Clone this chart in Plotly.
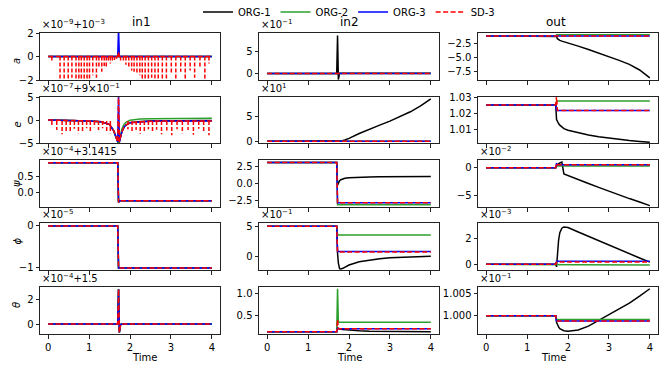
import plotly.graph_objects as go
from plotly.subplots import make_subplots

# ---------------- data (values in displayed axis units) ----------------
T = [0, 0.5, 1.0, 1.3, 1.5, 1.6, 1.66, 1.70, 1.72, 1.74, 1.77, 1.8, 1.85,
     1.9, 2.0, 2.25, 2.5, 2.75, 3.0, 3.25, 3.5, 3.75, 4.0]

SERIES = ["ORG-1", "ORG-2", "ORG-3", "SD-3"]

# in1 column
in1_a_org1 = [0, 0, 0, 0, 0, 0, 0, 0, 0, 0, 0, 0, 0, 0, 0, 0, 0, 0, 0, 0, 0, 0, 0]
in1_a_org2 = [0, 0, 0, 0, 0, 0, 0, 0, 0, 0, 0, 0, 0, 0, 0, 0, 0, 0, 0, 0, 0, 0, 0]
in1_a_org3 = [0, 0, 0, 0, 0, 0, 0, 0, 2.4, 0, 0, 0, 0, 0, 0, 0, 0, 0, 0, 0, 0, 0, 0]
in1_a_sd3 = [0, 0, 0, 0, 0, 0, 0, 0, 0.4, 0, 0, 0, 0, 0, 0, 0, 0, 0, 0, 0, 0, 0, 0]
in1_a_spike_t = [0.09, 0.29, 0.39, 0.49, 0.58, 0.68, 0.75, 0.81, 0.88, 0.95, 1.01, 1.09,
                 1.18, 1.24, 1.31, 1.37, 1.42, 1.47, 1.52, 1.57, 1.62, 1.67, 1.77, 1.84,
                 1.90, 1.97, 2.04, 2.10, 2.17, 2.24, 2.30, 2.37, 2.45, 2.53, 2.61, 2.69,
                 2.79, 2.89, 3.01, 3.12, 3.24, 3.35, 3.47, 3.58, 3.71, 3.83, 3.93]
in1_a_spike_v = [-0.5, -2.2, -2.2, -2.2, -1.8, -2.2, -2.2, -2.2, -2.2, -2.2, -2.2, -1.6,
                 -1.8, -1.0, -1.3, -0.8, -1.0, -0.5, -0.6, -0.4, -0.3, -0.2, -0.4, -0.5,
                 -0.7, -0.9, -1.2, -1.3, -1.5, -1.6, -2.2, -2.2, -2.2, -1.8, -2.2, -2.2,
                 -2.2, -2.2, -1.5, -2.2, -1.3, -2.2, -1.2, -1.8, -1.0, -2.2, -0.6]

in1_e_org1 = [0, -0.05, -0.2, -0.4, -1.0, -2.3, -3.6, -4.8, -5.2, -4.8, -3.6, -2.6, -1.6,
              -1.1, -0.6, -0.3, -0.2, -0.15, -0.12, -0.1, -0.1, -0.1, -0.1]
in1_e_org2 = [0, -0.05, -0.2, -0.4, -1.0, -2.3, -3.6, -4.8, -5.2, -4.5, -3.0, -2.0, -1.0,
              -0.5, -0.05, 0.2, 0.28, 0.32, 0.35, 0.37, 0.38, 0.39, 0.4]
in1_e_org3 = [0, -0.05, -0.2, -0.4, -1.0, -2.3, -3.6, -4.8, 5.6, -4.8, -3.6, -2.6, -1.6,
              -1.1, -0.6, -0.35, -0.25, -0.22, -0.2, -0.2, -0.2, -0.2, -0.2]
in1_e_sd3 = [0, -0.05, -0.2, -0.4, -1.0, -2.3, -3.6, -4.8, 5.6, -4.8, -3.6, -2.6, -1.6,
             -1.1, -0.6, -0.35, -0.25, -0.22, -0.2, -0.2, -0.2, -0.2, -0.2]
in1_e_spike_t = [0.09, 0.21, 0.34, 0.44, 0.54, 0.64, 0.74, 0.84, 0.94, 1.03, 1.13, 1.23,
                 1.33, 1.43, 1.52, 1.95, 2.05, 2.15, 2.25, 2.35, 2.45, 2.55, 2.65, 2.77,
                 2.90, 3.02, 3.15, 3.28, 3.42, 3.55, 3.68, 3.80, 3.93]
in1_e_spike_v = [-1.1, -2.2, -3.1, -2.4, -2.6, -1.9, -2.9, -2.4, -1.8, -2.5, -1.6, -2.2,
                 -1.8, -2.5, -2.9, -2.0, -2.5, -2.2, -3.0, -2.4, -2.0, -2.7, -2.1, -3.1,
                 -2.3, -3.3, -2.0, -2.9, -2.2, -3.2, -1.9, -2.8, -3.3]

in1_psi_all = [0.95, 0.95, 0.95, 0.95, 0.95, 0.95, 0.95, 0.95, -0.33, -0.28, -0.28, -0.28,
               -0.28, -0.28, -0.28, -0.28, -0.28, -0.28, -0.28, -0.28, -0.28, -0.28, -0.28]
in1_phi_all = [0, 0, 0, 0, 0, 0, 0, 0, -1.0, -1.0, -1.0, -1.0, -1.0, -1.0, -1.0, -1.0,
               -1.0, -1.0, -1.0, -1.0, -1.0, -1.0, -1.0]
in1_theta_all = [0, 0, 0, 0, 0, 0, 0, 0, 2.9, -0.7, -0.05, 0, 0, 0, 0, 0, 0, 0, 0, 0, 0, 0, 0]

# in2 column
in2_a_org1 = [0, 0, 0, 0, 0, 0, 0, 0, 8.6, -1.4, 0.02, 0.02, 0.02, 0.02, 0.02, 0.02, 0.02,
              0.02, 0.02, 0.02, 0.02, 0.02, 0.02]
in2_a_rest = [0, 0, 0, 0, 0, 0, 0, 0, 0, 0, 0, 0, 0, 0, 0, 0, 0, 0, 0, 0, 0, 0, 0]

in2_e_org1 = [0, 0, 0, 0, 0, 0, 0, 0, 0, 0, 0.02, 0.06, 0.15, 0.28, 0.6, 1.6, 2.5, 3.3,
              4.1, 5.0, 6.0, 7.2, 8.6]
in2_e_rest = [0, 0, 0, 0, 0, 0, 0, 0, 0, 0, 0, 0, 0, 0, 0, 0, 0, 0, 0, 0, 0, 0, 0]

in2_psi_org1 = [3.14, 3.14, 3.14, 3.14, 3.14, 3.14, 3.14, 3.14, -0.2, 0.2, 0.45, 0.6, 0.72,
                0.8, 0.88, 0.97, 1.0, 1.03, 1.05, 1.06, 1.07, 1.08, 1.08]
in2_psi_org2 = [3.14, 3.14, 3.14, 3.14, 3.14, 3.14, 3.14, 3.14, -3.1, -3.1, -3.1, -3.1,
                -3.1, -3.1, -3.1, -3.1, -3.1, -3.1, -3.1, -3.1, -3.1, -3.1, -3.1]
in2_psi_org3 = [3.14, 3.14, 3.14, 3.14, 3.14, 3.14, 3.14, 3.14, -2.8, -2.8, -2.8, -2.8,
                -2.8, -2.8, -2.8, -2.8, -2.8, -2.8, -2.8, -2.8, -2.8, -2.8, -2.8]
in2_psi_sd3 = [3.14, 3.14, 3.14, 3.14, 3.14, 3.14, 3.14, 3.14, -2.8, -2.8, -2.8, -2.8,
               -2.8, -2.8, -2.8, -2.8, -2.8, -2.8, -2.8, -2.8, -2.8, -2.8, -2.8]

in2_phi_org1 = [4.95, 4.95, 4.95, 4.95, 4.95, 4.95, 4.95, 4.95, 0.5, -1.2, -2.1, -2.17,
                -2.05, -1.85, -1.5, -0.95, -0.65, -0.45, -0.3, -0.2, -0.12, -0.06, -0.02]
in2_phi_org2 = [4.95, 4.95, 4.95, 4.95, 4.95, 4.95, 4.95, 4.95, 3.5, 3.5, 3.5, 3.5, 3.5,
                3.5, 3.5, 3.5, 3.5, 3.5, 3.5, 3.5, 3.5, 3.5, 3.5]
in2_phi_org3 = [4.95, 4.95, 4.95, 4.95, 4.95, 4.95, 4.95, 4.95, 0.75, 0.75, 0.75, 0.75,
                0.75, 0.75, 0.75, 0.75, 0.75, 0.75, 0.75, 0.75, 0.75, 0.75, 0.75]
in2_phi_sd3 = [4.95, 4.95, 4.95, 4.95, 4.95, 4.95, 4.95, 4.95, 0.65, 0.65, 0.65, 0.65,
               0.65, 0.65, 0.65, 0.65, 0.65, 0.65, 0.65, 0.65, 0.65, 0.65, 0.65]

in2_theta_org1 = [0.11, 0.11, 0.11, 0.11, 0.11, 0.11, 0.11, 0.11, 0.2, 0.19, 0.18, 0.17,
                  0.165, 0.16, 0.15, 0.135, 0.125, 0.12, 0.117, 0.115, 0.113, 0.112, 0.11]
in2_theta_org2 = [0.11, 0.11, 0.11, 0.11, 0.11, 0.11, 0.11, 0.11, 1.12, 0.34, 0.335, 0.335,
                  0.335, 0.335, 0.335, 0.335, 0.335, 0.335, 0.335, 0.335, 0.335, 0.335, 0.335]
in2_theta_org3 = [0.11, 0.11, 0.11, 0.11, 0.11, 0.11, 0.11, 0.11, 0.2, 0.18, 0.18, 0.18,
                  0.18, 0.18, 0.18, 0.18, 0.18, 0.18, 0.18, 0.18, 0.18, 0.18, 0.18]
in2_theta_sd3 = [0.11, 0.11, 0.11, 0.11, 0.11, 0.11, 0.11, 0.11, 0.4, 0.18, 0.18, 0.18,
                 0.18, 0.18, 0.18, 0.18, 0.18, 0.18, 0.18, 0.18, 0.18, 0.18, 0.18]

# out column
out_a_org1 = [-1.2, -1.2, -1.2, -1.2, -1.2, -1.2, -1.2, -1.2, -1.3, -1.7, -1.9, -2.0,
              -2.12, -2.22, -2.4, -3.0, -3.6, -4.2, -4.9, -5.5, -6.2, -7.2, -8.6]
out_a_org2 = [-1.2, -1.2, -1.2, -1.2, -1.2, -1.2, -1.2, -1.2, -1.0, -1.0, -1.0, -1.0,
              -1.0, -1.0, -1.0, -1.0, -1.0, -1.0, -1.0, -1.0, -1.0, -1.0, -1.0]
out_a_org3 = [-1.2, -1.2, -1.2, -1.2, -1.2, -1.2, -1.2, -1.2, -1.2, -1.2, -1.2, -1.2,
              -1.2, -1.2, -1.2, -1.2, -1.2, -1.2, -1.2, -1.2, -1.2, -1.2, -1.2]
out_a_sd3 = [-1.2, -1.2, -1.2, -1.2, -1.2, -1.2, -1.2, -1.2, -1.2, -1.2, -1.2, -1.2,
             -1.2, -1.2, -1.2, -1.2, -1.2, -1.2, -1.2, -1.2, -1.2, -1.2, -1.2]

out_e_org1 = [1.0252, 1.0252, 1.0252, 1.0252, 1.0252, 1.0252, 1.0252, 1.0252, 1.016,
              1.0148, 1.0135, 1.0125, 1.0112, 1.0103, 1.0093, 1.0077, 1.0063, 1.0052,
              1.0043, 1.0035, 1.0028, 1.0022, 1.0017]
out_e_org2 = [1.0252, 1.0252, 1.0252, 1.0252, 1.0252, 1.0252, 1.0252, 1.0252, 1.0278,
              1.0278, 1.0278, 1.0278, 1.0278, 1.0278, 1.0278, 1.0278, 1.0278, 1.0278,
              1.0278, 1.0278, 1.0278, 1.0278, 1.0278]
out_e_org3 = [1.0252, 1.0252, 1.0252, 1.0252, 1.0252, 1.0252, 1.0252, 1.0252, 1.0217,
              1.0217, 1.0217, 1.0217, 1.0217, 1.0217, 1.0217, 1.0217, 1.0217, 1.0217,
              1.0217, 1.0217, 1.0217, 1.0217, 1.0217]
out_e_sd3 = [1.0252, 1.0252, 1.0252, 1.0252, 1.0252, 1.0252, 1.0252, 1.0252, 1.031,
             1.0217, 1.0217, 1.0217, 1.0217, 1.0217, 1.0217, 1.0217, 1.0217, 1.0217,
             1.0217, 1.0217, 1.0217, 1.0217, 1.0217]

out_psi_org1 = [0, 0, 0, 0, 0, 0, 0, 0, 0.3, 0.5, 0.7, 0.85, 1.0, -1.1, -1.4, -2.1, -2.8,
                -3.5, -4.2, -4.85, -5.5, -6.1, -6.75]
out_psi_org2 = [0, 0, 0, 0, 0, 0, 0, 0, 0.3, 0.3, 0.3, 0.3, 0.3, 0.3, 0.3, 0.3, 0.3, 0.3,
                0.3, 0.3, 0.3, 0.3, 0.3]
out_psi_org3 = [0, 0, 0, 0, 0, 0, 0, 0, 0.8, 0.55, 0.55, 0.55, 0.55, 0.55, 0.55, 0.55,
                0.55, 0.55, 0.55, 0.55, 0.55, 0.55, 0.55]
out_psi_sd3 = [0, 0, 0, 0, 0, 0, 0, 0, 0.8, 0.55, 0.55, 0.55, 0.55, 0.55, 0.55, 0.55,
               0.55, 0.55, 0.55, 0.55, 0.55, 0.55, 0.55]

out_phi_org1 = [0, 0, 0, 0, 0, 0, 0, 0, -0.2, 0.8, 1.9, 2.5, 2.85, 2.95, 2.9, 2.55, 2.2,
                1.85, 1.5, 1.15, 0.83, 0.5, 0.17]
out_phi_org2 = [0, 0, 0, 0, 0, 0, 0, 0, -0.05, -0.05, -0.05, -0.05, -0.05, -0.05, -0.05,
                -0.05, -0.05, -0.05, -0.05, -0.05, -0.05, -0.05, -0.05]
out_phi_org3 = [0, 0, 0, 0, 0, 0, 0, 0, 0.25, 0.25, 0.25, 0.25, 0.25, 0.25, 0.25, 0.25,
                0.25, 0.25, 0.25, 0.25, 0.25, 0.25, 0.25]
out_phi_sd3 = [0, 0, 0, 0, 0, 0, 0, 0, 0.18, 0.18, 0.18, 0.18, 0.18, 0.18, 0.18, 0.18,
               0.18, 0.18, 0.18, 0.18, 0.18, 0.18, 0.18]

out_theta_org1 = [1.0, 1.0, 1.0, 1.0, 1.0, 1.0, 1.0, 1.0, 0.9985, 0.998, 0.9974, 0.997,
                  0.9967, 0.99655, 0.9964, 0.9967, 0.9976, 0.9989, 1.0002, 1.0015, 1.0029,
                  1.0045, 1.0062]
out_theta_org2 = [1.0, 1.0, 1.0, 1.0, 1.0, 1.0, 1.0, 1.0, 0.9991, 0.9991, 0.9991, 0.9991,
                  0.9991, 0.9991, 0.9991, 0.9991, 0.9991, 0.9991, 0.9991, 0.9991, 0.9991,
                  0.9991, 0.9991]
out_theta_org3 = [1.0, 1.0, 1.0, 1.0, 1.0, 1.0, 1.0, 1.0, 0.9988, 0.9988, 0.9988, 0.9988,
                  0.9988, 0.9988, 0.9988, 0.9988, 0.9988, 0.9988, 0.9988, 0.9988, 0.9988,
                  0.9988, 0.9988]
out_theta_sd3 = [1.0, 1.0, 1.0, 1.0, 1.0, 1.0, 1.0, 1.0, 0.9988, 0.9988, 0.9988, 0.9988,
                 0.9988, 0.9988, 0.9988, 0.9988, 0.9988, 0.9988, 0.9988, 0.9988, 0.9988,
                 0.9988, 0.9988]

X_TICKS = [0, 1, 2, 3, 4]
COL_TITLES = ["in1", "in2", "out"]
ROW_LABELS = ["a", "e", "ψ", "ϕ", "θ"]

# ---------------- panel configuration ----------------
M = "\u2212"
panels = [
    (1, 1, [in1_a_org1, in1_a_org2, in1_a_org3, in1_a_sd3], [-2.0, 2.0],
     [-2, 0, 2], [M + "2", "0", "2"], "×10<sup>−9</sup>+10<sup>−3</sup>"),
    (2, 1, [in1_e_org1, in1_e_org2, in1_e_org3, in1_e_sd3], [-5.0, 5.0],
     [-5, 0, 5], [M + "5", "0", "5"], "×10<sup>−7</sup>+9×10<sup>−1</sup>"),
    (3, 1, [in1_psi_all, in1_psi_all, in1_psi_all, in1_psi_all], [-0.48, 1.035],
     [0.0, 0.5], ["0.0", "0.5"], "×10<sup>−4</sup>+3.1415"),
    (4, 1, [in1_phi_all, in1_phi_all, in1_phi_all, in1_phi_all], [-1.05, 0.07],
     [-1, 0], [M + "1", "0"], "×10<sup>−5</sup>"),
    (5, 1, [in1_theta_all, in1_theta_all, in1_theta_all, in1_theta_all], [-0.83, 3.08],
     [0, 2], ["0", "2"], "×10<sup>−4</sup>+1.5"),
    (1, 2, [in2_a_org1, in2_a_rest, in2_a_rest, in2_a_rest], [-1.5, 9.15],
     [0, 5], ["0", "5"], "×10<sup>−1</sup>"),
    (2, 2, [in2_e_org1, in2_e_rest, in2_e_rest, in2_e_rest], [-0.34, 9.0],
     [0, 5], ["0", "5"], "×10<sup>1</sup>"),
    (3, 2, [in2_psi_org1, in2_psi_org2, in2_psi_org3, in2_psi_sd3], [-3.43, 3.5],
     [-2.5, 0.0, 2.5], [M + "2.5", "0.0", "2.5"], None),
    (4, 2, [in2_phi_org1, in2_phi_org2, in2_phi_org3, in2_phi_sd3], [-2.33, 5.5],
     [0, 5], ["0", "5"], "×10<sup>−1</sup>"),
    (5, 2, [in2_theta_org1, in2_theta_org2, in2_theta_org3, in2_theta_sd3], [0.06, 1.16],
     [0.5, 1.0], ["0.5", "1.0"], None),
    (1, 3, [out_a_org1, out_a_org2, out_a_org3, out_a_sd3], [-8.96, -0.69],
     [-7.5, -5.0, -2.5], [M + "7.5", M + "5.0", M + "2.5"], None),
    (2, 3, [out_e_org1, out_e_org2, out_e_org3, out_e_sd3], [1.0012, 1.0303],
     [1.01, 1.02, 1.03], ["1.01", "1.02", "1.03"], None),
    (3, 3, [out_psi_org1, out_psi_org2, out_psi_org3, out_psi_sd3], [-7.0, 1.375],
     [-5, 0], [M + "5", "0"], "×10<sup>−2</sup>"),
    (4, 3, [out_phi_org1, out_phi_org2, out_phi_org3, out_phi_sd3], [-0.45, 3.26],
     [0, 2], ["0", "2"], "×10<sup>−3</sup>"),
    (5, 3, [out_theta_org1, out_theta_org2, out_theta_org3, out_theta_sd3],
     [0.99578, 1.0066], [1.0, 1.005], ["1.000", "1.005"], "×10<sup>−1</sup>"),
]

# ---------------- styling / layout ----------------
W, H = 664, 369
COLORS = ["#000000", "#2ca02c", "#0000ff", "#ff0000"]
DASHES = ["solid", "solid", "solid", "5px,2.5px"]
FONT = "DejaVu Sans"
col_px = [(40, 220), (259, 439), (478, 658)]
row_px = [(33, 80), (97, 143), (160, 207), (223, 270), (287, 334)]


def px_x(x):
    return x / W


def px_y(y):
    return 1 - y / H


fig = make_subplots(rows=5, cols=3)

spike_sets = {(1, 1): (in1_a_spike_t, in1_a_spike_v, 0.0),
              (2, 1): (in1_e_spike_t, in1_e_spike_v, -0.2)}

for (r, c, series, yr, tv, tt, off) in panels:
    first = (r == 1 and c == 1)
    for k, (name, vals) in enumerate(zip(SERIES, series)):
        fig.add_trace(go.Scatter(
            x=T, y=vals, mode="lines", name=name, legendgroup=name,
            showlegend=first,
            line=dict(color=COLORS[k], width=1.5, dash=DASHES[k])), row=r, col=c)
        if k == 3 and (r, c) in spike_sets:
            st, sv, base = spike_sets[(r, c)]
            xs, ys = [], []
            for t, v in zip(st, sv):
                xs += [t, t, None]
                ys += [base, v, None]
            fig.add_trace(go.Scatter(
                x=xs, y=ys, mode="lines", showlegend=False, legendgroup=name,
                line=dict(color=COLORS[3], width=1.5, dash="4px,2px")), row=r, col=c)
    x0, x1 = col_px[c - 1]
    y0, y1 = row_px[r - 1]
    fig.update_xaxes(domain=[px_x(x0), px_x(x1)], range=[-0.2, 4.2],
                     tickvals=X_TICKS, ticktext=[str(v) for v in X_TICKS],
                     showticklabels=(r == 5), row=r, col=c)
    fig.update_yaxes(domain=[px_y(y1), px_y(y0)], range=yr, tickvals=tv, ticktext=tt,
                     row=r, col=c)
    if off:
        fig.add_annotation(x=px_x(x0), y=px_y(y0) + 1 / H, xref="paper", yref="paper",
                           text=off, showarrow=False, xanchor="left", yanchor="bottom",
                           font=dict(size=10, family=FONT, color="black"))

axis_style = dict(showline=True, mirror=True, linecolor="#222", linewidth=1,
                  ticks="outside", ticklen=3.5, tickwidth=1, tickcolor="#222",
                  showgrid=False, zeroline=False, automargin=False,
                  tickfont=dict(size=10, family=FONT, color="black"))
fig.update_xaxes(**axis_style)
fig.update_yaxes(**axis_style)

for c, title in enumerate(COL_TITLES):
    x0, x1 = col_px[c]
    fig.add_annotation(x=px_x((x0 + x1) / 2), y=px_y(33) + 2 / H, xref="paper",
                       yref="paper", text=title, showarrow=False, yanchor="bottom",
                       font=dict(size=12, family=FONT, color="black"))
    fig.add_annotation(x=px_x((x0 + x1) / 2), y=px_y(357), xref="paper", yref="paper",
                       text="Time", showarrow=False, yanchor="middle",
                       font=dict(size=10, family=FONT, color="black"))

for r, lab in enumerate(ROW_LABELS):
    y0, y1 = row_px[r]
    fig.add_annotation(x=px_x(9), y=px_y((y0 + y1) / 2), xref="paper", yref="paper",
                       text="<i>" + lab + "</i>", showarrow=False, textangle=-90,
                       font=dict(size=10, family=FONT, color="black"))

fig.update_layout(
    width=W, height=H, margin=dict(l=0, r=0, t=0, b=0, autoexpand=False),
    plot_bgcolor="white", paper_bgcolor="white",
    font=dict(family=FONT, size=10, color="black"),
    legend=dict(orientation="h", x=px_x(349), xanchor="center", y=px_y(12),
                yanchor="middle", font=dict(size=10, family=FONT), itemwidth=30,
                tracegroupgap=0, bgcolor="rgba(0,0,0,0)"),
)

fig.write_html("out.html", config={"displayModeBar": False},
               post_script="document.body.style.margin='0';"
                           "document.body.style.overflow='hidden';")
